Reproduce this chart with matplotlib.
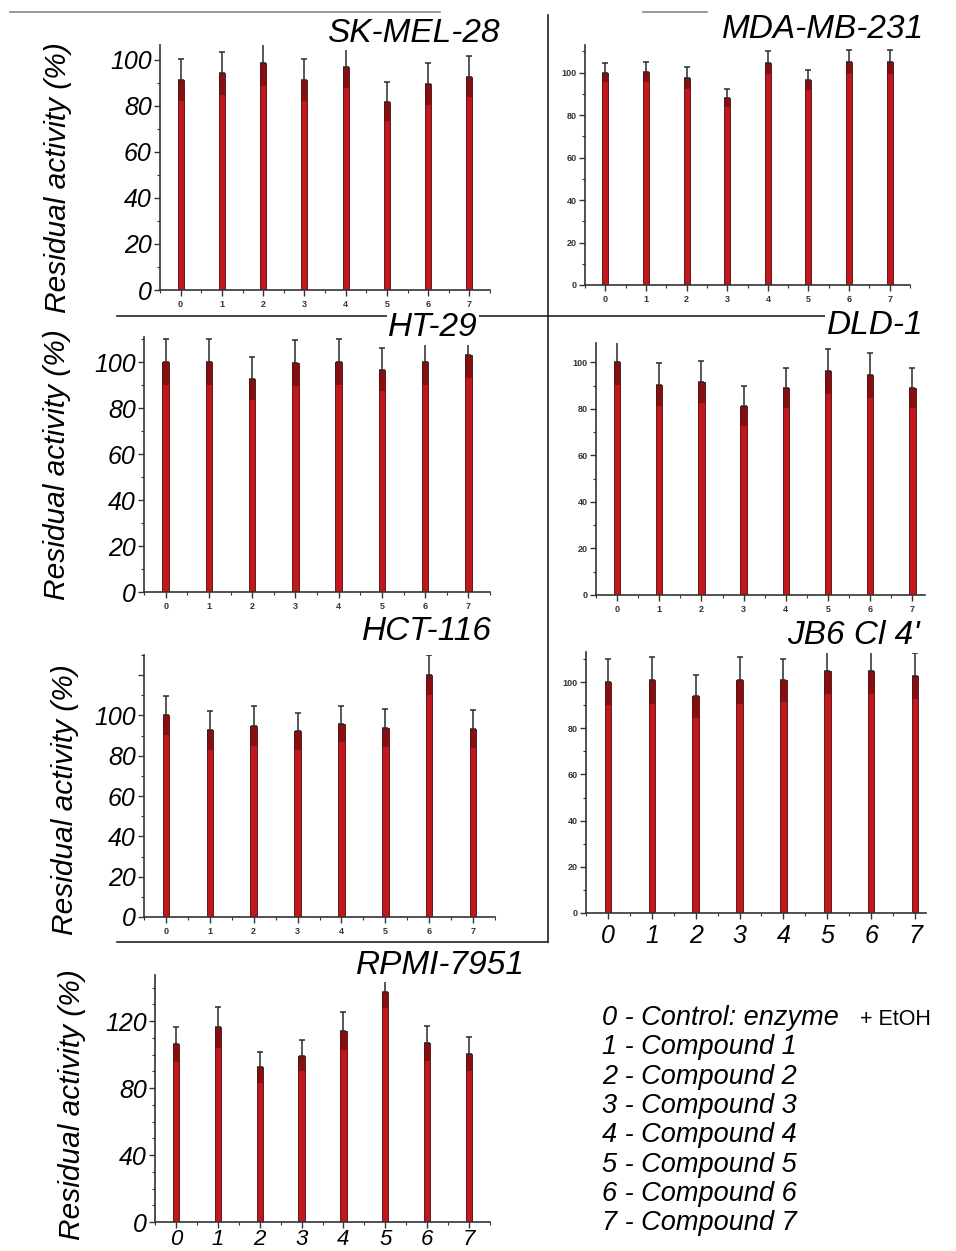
import numpy as np
import matplotlib
matplotlib.use("Agg")
import matplotlib.pyplot as plt
from matplotlib.lines import Line2D
from matplotlib.ticker import MultipleLocator

plt.rcParams['font.family'] = ['Liberation Sans', 'DejaVu Sans']

# Datos (actividad residual, %)
compuestos = [0, 1, 2, 3, 4, 5, 6, 7]

sk_mel_28 = [91.3, 94.2, 98.6, 91.3, 97.1, 81.9, 89.4, 92.8]
sk_mel_28_err = [9.0, 9.4, 10.0, 9.0, 9.4, 8.5, 9.1, 9.1]

mda_mb_231 = [100.0, 100.3, 97.5, 88.1, 104.7, 96.4, 105.0, 105.0]
mda_mb_231_err = [4.5, 4.7, 5.0, 4.4, 5.5, 4.7, 5.8, 5.8]

ht_29 = [100.0, 100.0, 92.8, 99.7, 100.0, 96.7, 100.0, 103.3]
ht_29_err = [10.1, 10.0, 9.4, 10.0, 10.0, 9.4, 10.0, 10.0]

dld_1 = [100.0, 90.4, 91.4, 81.1, 89.0, 96.1, 94.4, 89.0]
dld_1_err = [9.6, 9.3, 9.0, 8.6, 8.6, 9.6, 9.6, 8.6]

hct_116 = [100.0, 92.6, 94.7, 92.1, 95.6, 93.7, 120.1, 93.1]
hct_116_err = [9.9, 9.5, 9.9, 9.2, 9.0, 9.4, 10.0, 9.4]

jb6 = [100.0, 100.7, 93.9, 100.7, 100.7, 104.6, 104.8, 102.6]
jb6_err = [10.1, 10.1, 9.3, 10.1, 9.4, 10.0, 10.0, 10.0]

rpmi_7951 = [106.2, 116.2, 92.3, 99.3, 114.2, 137.5, 106.6, 100.3]
rpmi_7951_err = [10.4, 12.0, 9.0, 9.3, 11.2, 10.0, 10.6, 9.9]

leyenda = ['0 - Control: enzyme', '1 - Compound 1', '2 - Compound 2', '3 - Compound 3',
           '4 - Compound 4', '5 - Compound 5', '6 - Compound 6', '7 - Compound 7']

W, H = 956, 1251
fig = plt.figure(figsize=(W / 100, H / 100), dpi=100)


def fx(x):
    return x / W


def fy(y):
    return 1 - y / H


def panel(izq, der, arriba, abajo, vals, errs, ymax, xmax, ypaso, grande_y, grande_x,
          tam_x=18, pad_x=4):
    ax = fig.add_axes([fx(izq), fy(abajo), (der - izq) / W, (abajo - arriba) / H])
    x = np.array(compuestos)
    vals = np.array(vals)
    errs = np.array(errs)
    ax.bar(x, vals, width=0.15, color='#c2181b', edgecolor='#4a0a0a', linewidth=0.6, zorder=2)
    # parte inferior de la barra de error (mas oscura, sobre la barra)
    ax.bar(x, errs, bottom=vals - errs, width=0.15, color='#4a0808', alpha=0.5,
           linewidth=0, zorder=3)
    ax.errorbar(x, vals, yerr=[np.zeros_like(errs), errs], fmt='none', ecolor='#2a2a2a',
                elinewidth=1.1, capsize=2.0, capthick=1.1, zorder=4)
    ax.set_xlim(-0.5, xmax)
    ax.set_ylim(0, ymax)
    for s in ['top', 'right']:
        ax.spines[s].set_visible(False)
    for s in ['left', 'bottom']:
        ax.spines[s].set_color('#333333')
        ax.spines[s].set_linewidth(1.2)
    ax.set_xticks(compuestos)
    ax.xaxis.set_minor_locator(MultipleLocator(0.5))
    ax.yaxis.set_major_locator(MultipleLocator(ypaso))
    ax.yaxis.set_minor_locator(MultipleLocator(10))
    ax.tick_params(axis='both', which='major', length=4, width=1, color='#333333')
    ax.tick_params(axis='both', which='minor', length=2.5, width=0.8, color='#333333')
    if grande_y:
        ax.tick_params(axis='y', labelsize=18, pad=2)
        for t in ax.get_yticklabels():
            t.set_fontstyle('italic')
    else:
        ax.tick_params(axis='y', labelsize=6.5, pad=2, labelcolor='#333333')
        for t in ax.get_yticklabels():
            t.set_fontweight('bold')
    if grande_x:
        ax.tick_params(axis='x', labelsize=tam_x, pad=pad_x)
        for t in ax.get_xticklabels():
            t.set_fontstyle('italic')
    else:
        ax.tick_params(axis='x', labelsize=6.5, pad=3, labelcolor='#333333')
        for t in ax.get_xticklabels():
            t.set_fontweight('bold')
    return ax


panel(160, 490, 45, 290, sk_mel_28, sk_mel_28_err, 106.5, 7.5, 20, True, False)
panel(585, 910, 45, 285, mda_mb_231, mda_mb_231_err, 113, 7.5, 20, False, False)
panel(144, 490, 337, 592, ht_29, ht_29_err, 111, 7.5, 20, True, False)
panel(596, 925, 343, 595, dld_1, dld_1_err, 108.3, 7.3, 20, False, False)
ax5 = panel(144, 495, 655, 917, hct_116, hct_116_err, 130, 7.5, 20, True, False)
ax5.set_yticks([0, 20, 40, 60, 80, 100, 120])
ax5.set_yticklabels(['0', '20', '40', '60', '80', '100', ''], fontstyle='italic')
panel(586, 926, 652, 913, jb6, jb6_err, 113, 7.25, 20, False, True)
panel(155, 490, 975, 1222, rpmi_7951, rpmi_7951_err, 147.5, 7.5, 40, True, True,
      tam_x=16, pad_x=1)

# lineas separadoras del montaje
lineas = [((10, 440), (12, 12), '#888888'), ((643, 707), (12, 12), '#888888'),
          ((548, 548), (15, 942), '#222222'), ((117, 825), (316, 316), '#222222'),
          ((117, 548), (942, 942), '#222222')]
for xs, ys, c in lineas:
    fig.add_artist(Line2D([fx(v) for v in xs], [fy(v) for v in ys], color=c, lw=1.2,
                          transform=fig.transFigure, zorder=1))

# titulos
titulos = [('SK-MEL-28', 413, 33), ('MDA-MB-231', 823, 29), ('HT-29', 433, 328),
           ('DLD-1', 875, 325), ('HCT-116', 427, 632), ("JB6 Cl 4'", 853, 636),
           ('RPMI-7951', 440, 965)]
for t, x, y in titulos:
    fig.text(fx(x), fy(y), t, ha='center', va='center', fontsize=24, fontstyle='italic',
             bbox=dict(facecolor='white', edgecolor='none', pad=1), zorder=5)

# etiquetas del eje y
for x, y in [(58, 178), (57, 465), (65, 800), (72, 1105)]:
    fig.text(fx(x), fy(y), 'Residual activity (%)', rotation=90, ha='center', va='center',
             fontsize=21.5, fontstyle='italic')

# leyenda
for i, t in enumerate(leyenda):
    fig.text(fx(602), fy(1025 + 29.3 * i), t, ha='left', va='baseline', fontsize=19.5,
             fontstyle='italic')
fig.text(fx(860), fy(1025), '+ EtOH', ha='left', va='baseline', fontsize=15.5)

fig.savefig('out.png', dpi=100)
